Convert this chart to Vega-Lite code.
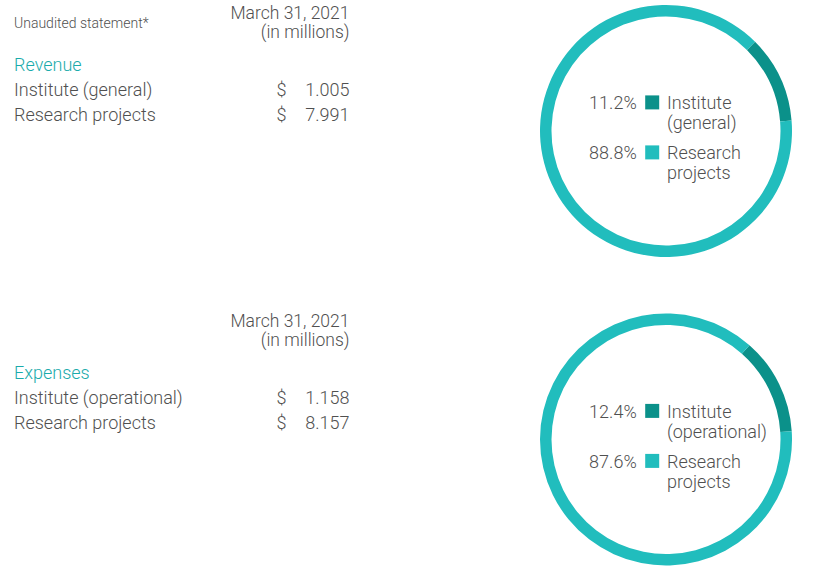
{
  "$schema": "https://vega.github.io/schema/vega-lite/v6.json",
  "background": "white",
  "padding": {"left": 0, "top": 4, "right": 0, "bottom": 0},
  "spacing": 55.5,
  "config": {
    "view": {"stroke": null},
    "text": {"font": "Roboto", "fontWeight": 300, "fontSize": 18, "color": "#505050", "baseline": "alphabetic"}
  },
  "datasets": {
    "revenue": [
      {"label": "Institute (general)", "segment": "Institute", "amount": 1.005, "pct": "11.2%"},
      {"label": "Research projects", "segment": "Research", "amount": 7.991, "pct": "88.8%"}
    ],
    "expenses": [
      {"label": "Institute (operational)", "segment": "Institute", "amount": 1.158, "pct": "12.4%"},
      {"label": "Research projects", "segment": "Research", "amount": 8.157, "pct": "87.6%"}
    ]
  },
  "resolve": {"scale": {"theta": "independent", "y": "independent", "x": "independent", "color": "shared"}},
  "vconcat": [
    {
      "spacing": 190,
      "resolve": {"scale": {"theta": "independent", "y": "independent", "x": "independent", "color": "shared"}},
      "hconcat": [
        {
          "width": 350,
          "height": 252,
          "data": {"name": "revenue"},
          "layer": [
            {
              "data": {"values": [{"t": "Unaudited statement*"}]},
              "mark": {"type": "text", "align": "left", "fontSize": 14},
              "encoding": {"text": {"field": "t"}, "x": {"value": 14}, "y": {"value": 22.7}}
            },
            {
              "data": {"values": [{"t": "March 31, 2021"}]},
              "mark": {"type": "text", "align": "right", "fontSize": 17.5},
              "encoding": {"text": {"field": "t"}, "x": {"value": 349.5}, "y": {"value": 13.5}}
            },
            {
              "data": {"values": [{"t": "(in millions)"}]},
              "mark": {"type": "text", "align": "right", "fontSize": 17.5},
              "encoding": {"text": {"field": "t"}, "x": {"value": 349.5}, "y": {"value": 32.5}}
            },
            {
              "data": {"values": [{"t": "Revenue"}]},
              "mark": {"type": "text", "align": "left", "color": "#1aabab"},
              "encoding": {"text": {"field": "t"}, "x": {"value": 14}, "y": {"value": 65.7}}
            },
            {
              "mark": {"type": "text", "align": "left"},
              "encoding": {
                "text": {"field": "label"},
                "x": {"value": 14},
                "y": {"field": "label", "type": "nominal", "sort": null, "scale": {"type": "point", "range": [90.7, 115.7], "padding": 0}, "axis": null}
              }
            },
            {
              "mark": {"type": "text", "align": "left", "text": "$"},
              "encoding": {
                "x": {"value": 276.5},
                "y": {"field": "label", "type": "nominal", "sort": null, "axis": null}
              }
            },
            {
              "mark": {"type": "text", "align": "right"},
              "encoding": {
                "text": {"field": "amount", "type": "quantitative", "format": ".3f"},
                "x": {"value": 349.5},
                "y": {"field": "label", "type": "nominal", "sort": null, "axis": null}
              }
            }
          ]
        },
        {
          "width": 252,
          "height": 252,
          "data": {"name": "revenue"},
          "layer": [
            {
              "mark": {"type": "arc", "radius": 126, "innerRadius": 114.5},
              "encoding": {
                "theta": {"field": "amount", "type": "quantitative", "stack": true, "scale": {"range": [0.785, 7.068]}},
                "color": {"field": "segment", "type": "nominal", "scale": {"domain": ["Institute", "Research"], "range": ["#0b918a", "#21bdbd"]}, "legend": null}
              }
            },
            {
              "mark": {"type": "square", "size": 196, "filled": true, "opacity": 1},
              "encoding": {
                "x": {"value": 112.2},
                "y": {"field": "segment", "type": "nominal", "scale": {"type": "point", "range": [97.4, 147.4], "padding": 0}, "axis": null},
                "color": {"field": "segment", "type": "nominal", "legend": null}
              }
            },
            {
              "mark": {"type": "text", "align": "right", "dy": 7},
              "encoding": {
                "text": {"field": "pct"},
                "x": {"value": 96.7},
                "y": {"field": "segment", "type": "nominal", "axis": null}
              }
            },
            {
              "mark": {"type": "text", "align": "left", "dy": 7, "lineBreak": " ", "lineHeight": 20},
              "encoding": {
                "text": {"field": "label"},
                "x": {"value": 127},
                "y": {"field": "segment", "type": "nominal", "axis": null}
              }
            }
          ]
        }
      ]
    },
    {
      "spacing": 190,
      "resolve": {"scale": {"theta": "independent", "y": "independent", "x": "independent", "color": "shared"}},
      "hconcat": [
        {
          "width": 350,
          "height": 252,
          "data": {"name": "expenses"},
          "layer": [
            {
              "data": {"values": [{"t": "March 31, 2021"}]},
              "mark": {"type": "text", "align": "right", "fontSize": 17.5},
              "encoding": {"text": {"field": "t"}, "x": {"value": 349.5}, "y": {"value": 13.5}}
            },
            {
              "data": {"values": [{"t": "(in millions)"}]},
              "mark": {"type": "text", "align": "right", "fontSize": 17.5},
              "encoding": {"text": {"field": "t"}, "x": {"value": 349.5}, "y": {"value": 32.5}}
            },
            {
              "data": {"values": [{"t": "Expenses"}]},
              "mark": {"type": "text", "align": "left", "color": "#1aabab"},
              "encoding": {"text": {"field": "t"}, "x": {"value": 14}, "y": {"value": 65.7}}
            },
            {
              "mark": {"type": "text", "align": "left"},
              "encoding": {
                "text": {"field": "label"},
                "x": {"value": 14},
                "y": {"field": "label", "type": "nominal", "sort": null, "scale": {"type": "point", "range": [90.7, 115.7], "padding": 0}, "axis": null}
              }
            },
            {
              "mark": {"type": "text", "align": "left", "text": "$"},
              "encoding": {
                "x": {"value": 276.5},
                "y": {"field": "label", "type": "nominal", "sort": null, "axis": null}
              }
            },
            {
              "mark": {"type": "text", "align": "right"},
              "encoding": {
                "text": {"field": "amount", "type": "quantitative", "format": ".3f"},
                "x": {"value": 349.5},
                "y": {"field": "label", "type": "nominal", "sort": null, "axis": null}
              }
            }
          ]
        },
        {
          "width": 252,
          "height": 252,
          "data": {"name": "expenses"},
          "layer": [
            {
              "mark": {"type": "arc", "radius": 126, "innerRadius": 114.5},
              "encoding": {
                "theta": {"field": "amount", "type": "quantitative", "stack": true, "scale": {"range": [0.7243, 7.0075]}},
                "color": {"field": "segment", "type": "nominal", "scale": {"domain": ["Institute", "Research"], "range": ["#0b918a", "#21bdbd"]}, "legend": null}
              }
            },
            {
              "mark": {"type": "square", "size": 196, "filled": true, "opacity": 1},
              "encoding": {
                "x": {"value": 112.2},
                "y": {"field": "segment", "type": "nominal", "scale": {"type": "point", "range": [97.4, 147.4], "padding": 0}, "axis": null},
                "color": {"field": "segment", "type": "nominal", "legend": null}
              }
            },
            {
              "mark": {"type": "text", "align": "right", "dy": 7},
              "encoding": {
                "text": {"field": "pct"},
                "x": {"value": 96.7},
                "y": {"field": "segment", "type": "nominal", "axis": null}
              }
            },
            {
              "mark": {"type": "text", "align": "left", "dy": 7, "lineBreak": " ", "lineHeight": 20},
              "encoding": {
                "text": {"field": "label"},
                "x": {"value": 127},
                "y": {"field": "segment", "type": "nominal", "axis": null}
              }
            }
          ]
        }
      ]
    }
  ]
}
